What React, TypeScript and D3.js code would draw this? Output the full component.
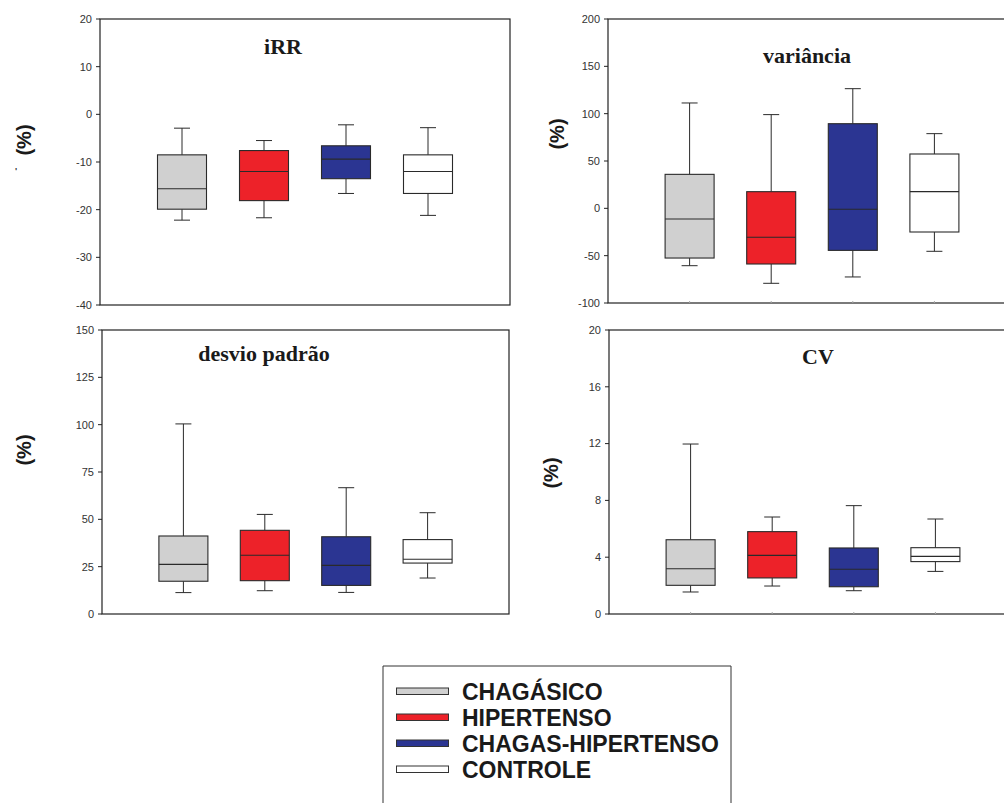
import React from "react";
import * as d3 from "d3";

const groups = ["CHAGÁSICO", "HIPERTENSO", "CHAGAS-HIPERTENSO", "CONTROLE"];
const groupColors = ["#d0d0d0", "#ed2229", "#2b3592", "#ffffff"];

// [low whisker, Q1, median, Q3, high whisker]
const irrValues = [
  [-22.2, -19.9, -15.6, -8.5, -2.9],
  [-21.7, -18.1, -12.0, -7.6, -5.5],
  [-16.6, -13.5, -9.4, -6.6, -2.2],
  [-21.2, -16.6, -12.0, -8.5, -2.8],
];
const varianciaValues = [
  [-60.6, -52.5, -11.3, 35.9, 111.3],
  [-79.2, -58.8, -30.6, 17.6, 99.0],
  [-72.5, -44.4, -1.0, 89.4, 126.4],
  [-45.4, -25.0, 17.6, 57.4, 78.9],
];
const desvioValues = [
  [11.3, 17.3, 26.2, 41.2, 100.4],
  [12.3, 17.6, 31.0, 44.2, 52.6],
  [11.4, 15.1, 25.7, 40.8, 66.7],
  [19.0, 26.9, 28.9, 39.3, 53.5],
];
const cvValues = [
  [1.55, 2.02, 3.19, 5.23, 11.97],
  [1.97, 2.54, 4.13, 5.8, 6.83],
  [1.64, 1.92, 3.15, 4.65, 7.63],
  [3.0, 3.69, 4.06, 4.67, 6.69],
];

const irrTicks = [-40, -30, -20, -10, 0, 10, 20];
const varianciaTicks = [-100, -50, 0, 50, 100, 150, 200];
const desvioTicks = [0, 25, 50, 75, 100, 125, 150];
const cvTicks = [0, 4, 8, 12, 16, 20];

const panelTitles = ["iRR", "variância", "desvio padrão", "CV"];

type PanelProps = {
  left: number;
  top: number;
  width: number;
  height: number;
  domain: [number, number];
  ticks: number[];
  data: number[][];
  title: string;
  titleX: number;
  titleY: number;
  ylabX: number;
  ylabY: number;
  catTicks: boolean;
};

function Panel(p: PanelProps) {
  const y = d3.scaleLinear().domain(p.domain).range([p.top + p.height, p.top]);
  const x = d3.scaleLinear().domain([0, 5]).range([p.left, p.left + p.width]);
  const bw = 49;
  const cw = 16;
  const stroke = "#2a2a2a";
  return (
    <g>
      <rect x={p.left} y={p.top} width={p.width} height={p.height} fill="none" stroke="#222" strokeWidth={1.2} />
      {p.ticks.map((t) => (
        <g key={t}>
          <line x1={p.left - 4} x2={p.left} y1={y(t)} y2={y(t)} stroke="#222" />
          <text x={p.left - 8} y={y(t)} dy="0.35em" textAnchor="end" fontSize={11} fontFamily="Liberation Sans, Arial, sans-serif" fill="#333">
            {t}
          </text>
        </g>
      ))}
      {p.catTicks &&
        groups.map((g, i) => (
          <line key={g} x1={x(i + 1)} x2={x(i + 1)} y1={p.top + p.height} y2={p.top + p.height - 2} stroke="#aaa" />
        ))}
      {p.data.map((v, i) => {
        const cx = x(i + 1);
        const [lo, q1, med, q3, hi] = v;
        return (
          <g key={i}>
            <line x1={cx} x2={cx} y1={y(hi)} y2={y(q3)} stroke={stroke} />
            <line x1={cx} x2={cx} y1={y(q1)} y2={y(lo)} stroke={stroke} />
            <line x1={cx - cw / 2} x2={cx + cw / 2} y1={y(hi)} y2={y(hi)} stroke={stroke} />
            <line x1={cx - cw / 2} x2={cx + cw / 2} y1={y(lo)} y2={y(lo)} stroke={stroke} />
            <rect x={cx - bw / 2} y={y(q3)} width={bw} height={y(q1) - y(q3)} fill={groupColors[i]} stroke={stroke} strokeWidth={1.1} />
            <line x1={cx - bw / 2} x2={cx + bw / 2} y1={y(med)} y2={y(med)} stroke={stroke} strokeWidth={1.1} />
          </g>
        );
      })}
      <text x={p.titleX} y={p.titleY} textAnchor="middle" fontSize={22} fontWeight="bold" fontFamily="Liberation Serif, Times New Roman, serif" fill="#1a1a1a">
        {p.title}
      </text>
      <text
        transform={`translate(${p.ylabX},${p.ylabY}) rotate(-90)`}
        textAnchor="middle"
        dominantBaseline="central"
        fontSize={20}
        fontWeight="bold"
        fontFamily="Liberation Sans, Arial, sans-serif"
        fill="#1a1a1a"
      >
        (%)
      </text>
    </g>
  );
}

export default function App() {
  const legendX = 383;
  const legendY = 666;
  return (
    <svg width={1004} height={803} style={{ position: "absolute", left: 0, top: 0 }} xmlns="http://www.w3.org/2000/svg">
      <rect width={1004} height={803} fill="#fff" />
      <Panel left={100} top={19} width={410} height={286} domain={[-40, 20]} ticks={irrTicks} data={irrValues} title={panelTitles[0]} titleX={283} titleY={54} ylabX={23.5} ylabY={140} catTicks={false} />
      <Panel left={608} top={19} width={408} height={284} domain={[-100, 200]} ticks={varianciaTicks} data={varianciaValues} title={panelTitles[1]} titleX={807} titleY={63} ylabX={557} ylabY={134} catTicks={true} />
      <Panel left={102} top={330} width={407} height={284} domain={[0, 150]} ticks={desvioTicks} data={desvioValues} title={panelTitles[2]} titleX={264} titleY={361} ylabX={23.5} ylabY={450} catTicks={false} />
      <Panel left={609} top={330} width={408} height={284} domain={[0, 20]} ticks={cvTicks} data={cvValues} title={panelTitles[3]} titleX={818} titleY={364} ylabX={551} ylabY={473} catTicks={true} />
      <text x={15} y={174} fontSize={9} fontWeight="bold" fill="#333" fontFamily="Liberation Sans, Arial, sans-serif">'</text>
      <path d={`M${legendX},${803}V${legendY}H${731}V${803}`} fill="none" stroke="#333" strokeWidth={1} />
      {groups.map((g, i) => {
        const base = 700 + i * 26;
        return (
          <g key={g}>
            <rect x={396.5} y={base - 12} width={52} height={6.5} fill={groupColors[i]} stroke="#333" strokeWidth={1} />
            <text x={462} y={base} fontSize={23} fontWeight="bold" fontFamily="Liberation Sans, Arial, sans-serif" fill="#1a1a1a">
              {g}
            </text>
          </g>
        );
      })}
    </svg>
  );
}
